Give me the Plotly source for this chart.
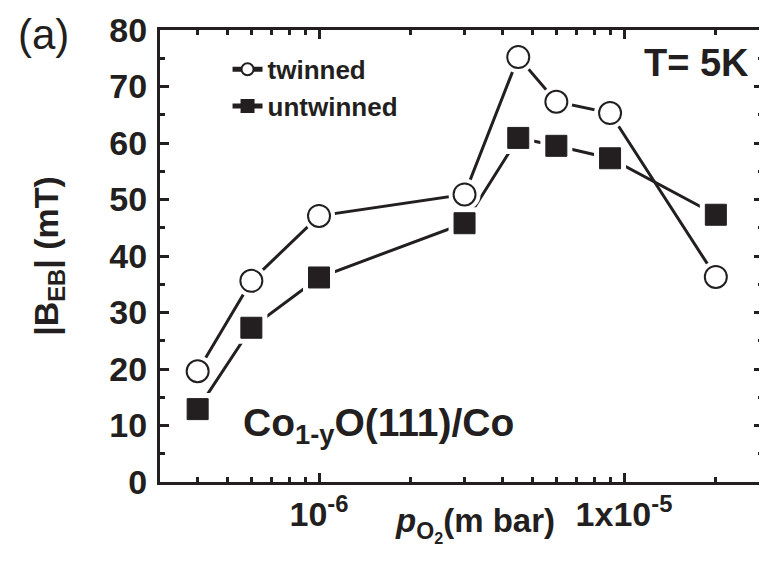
import plotly.graph_objects as go

# ---- data ----
p_o2 = [4e-7, 6e-7, 1e-6, 3e-6, 4.5e-6, 6e-6, 9e-6, 2e-5]          # mbar
b_twinned = [19.6, 35.6, 47.1, 50.9, 75.2, 67.3, 65.3, 36.3]        # mT
b_untwinned = [12.9, 27.3, 36.2, 45.8, 60.9, 59.5, 57.3, 47.3]      # mT
series_names = ["twinned", "untwinned"]

x_major_vals = [1e-6, 1e-5]
x_major_text = ["10<sup>-6</sup>", "1x10<sup>-5</sup>"]
x_minor_vals = [3e-7, 4e-7, 5e-7, 6e-7, 7e-7, 8e-7, 9e-7,
                2e-6, 3e-6, 4e-6, 5e-6, 6e-6, 7e-6, 8e-6, 9e-6, 2e-5]
y_ticks = [0, 10, 20, 30, 40, 50, 60, 70, 80]

FONT = "Liberation Sans, Arial, Helvetica, sans-serif"
BLACK = "#231f20"
symbols = ["circle", "square"]
fills = ["white", BLACK]

fig = go.Figure()

# lines (also carry the legend entries: line + small symbol)
for y, name, sym, fill in zip([b_twinned, b_untwinned], series_names, symbols, fills):
    fig.add_trace(go.Scatter(x=p_o2, y=y, mode="lines+markers", name=name,
                             line=dict(color=BLACK, width=3),
                             marker=dict(symbol=sym, size=14, color=fill,
                                         line=dict(color=BLACK, width=1.5)),
                             hoverinfo="skip"))
# white halos so that lines stop short of the symbols
for y, sym in zip([b_twinned, b_untwinned], symbols):
    fig.add_trace(go.Scatter(x=p_o2, y=y, mode="markers", showlegend=False,
                             marker=dict(symbol=sym, size=32, color="white"),
                             hoverinfo="skip"))
# the symbols
fig.add_trace(go.Scatter(x=p_o2, y=b_twinned, mode="markers", showlegend=False,
                         marker=dict(symbol="circle", size=22, color="white",
                                     line=dict(color=BLACK, width=2))))
fig.add_trace(go.Scatter(x=p_o2, y=b_untwinned, mode="markers", showlegend=False,
                         marker=dict(symbol="square", size=21, color=BLACK,
                                     line=dict(color=BLACK, width=1))))

# the page body has an 8px margin, so the figure is 8px smaller each way
fig.update_layout(
    width=759, height=573,
    margin=dict(l=152, r=4, t=22, b=99),
    paper_bgcolor="white", plot_bgcolor="white",
    font=dict(family=FONT, color=BLACK),
    showlegend=True,
    legend=dict(x=0.112, y=0.965, xanchor="left", yanchor="top",
                bgcolor="rgba(0,0,0,0)", borderwidth=0,
                font=dict(size=26, family=FONT, weight="bold", color=BLACK),
                itemsizing="constant", tracegroupgap=0),
    xaxis=dict(type="log", range=[-6.5214, -4.5443], automargin=False,
               tickmode="array", tickvals=x_major_vals, ticktext=x_major_text,
               ticks="inside", ticklen=9, tickwidth=2.5, tickcolor=BLACK,
               minor=dict(tickmode="array", tickvals=x_minor_vals, ticks="inside",
                          ticklen=5, tickwidth=2.5, tickcolor=BLACK, showgrid=False),
               showline=True, linewidth=3, linecolor=BLACK, mirror="allticks",
               showgrid=False, zeroline=False, ticklabelstandoff=0,
               tickfont=dict(size=34, family=FONT, weight="bold", color=BLACK)),
    yaxis=dict(range=[0, 80], tickmode="array", tickvals=y_ticks, automargin=False,
               ticks="inside", ticklen=9, tickwidth=2.5, tickcolor=BLACK,
               minor=dict(dtick=5, tick0=0, ticks="inside", ticklen=5,
                          tickwidth=2.5, tickcolor=BLACK, showgrid=False),
               showline=True, linewidth=3, linecolor=BLACK, mirror="allticks",
               showgrid=False, zeroline=False, ticklabelstandoff=3,
               tickfont=dict(size=34, family=FONT, weight="bold", color=BLACK)),
)

# axis titles
fig.add_annotation(text="|B<sub>EB</sub>| (mT)", xref="paper", yref="paper",
                   x=-0.186, y=0.5, xanchor="center", yanchor="middle",
                   textangle=-90, showarrow=False,
                   font=dict(size=34, family=FONT, weight="bold", color=BLACK))
fig.add_annotation(text="<i>p</i><sub>O<sub>2</sub></sub>(m bar)", xref="paper",
                   yref="paper", x=0.522, y=-0.095, xanchor="center", yanchor="middle",
                   showarrow=False,
                   font=dict(size=33, family=FONT, weight="bold", color=BLACK))

fig.add_annotation(text="(a)", xref="paper", yref="paper", x=-0.194, y=0.99,
                   xanchor="center", yanchor="middle", showarrow=False,
                   font=dict(size=42, family=FONT, color=BLACK))
fig.add_annotation(text="T= 5K", xref="paper", yref="paper", x=0.98, y=0.977,
                   xanchor="right", yanchor="top", showarrow=False,
                   font=dict(size=38, family=FONT, weight="bold", color=BLACK))
fig.add_annotation(text="Co<sub>1-y</sub>O(111)/Co", xref="paper", yref="paper",
                   x=0.135, y=0.066, xanchor="left", yanchor="bottom", showarrow=False,
                   font=dict(size=39, family=FONT, weight="bold", color=BLACK))

fig.write_html("out.html")
